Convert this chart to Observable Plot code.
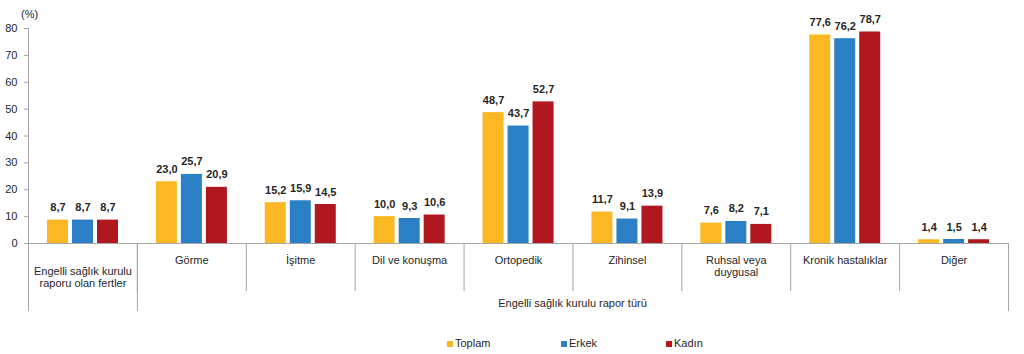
<!DOCTYPE html>
<html>
<head>
<meta charset="utf-8">
<script src="https://cdn.jsdelivr.net/npm/d3@7"></script>
<script src="https://cdn.jsdelivr.net/npm/@observablehq/plot@0.6"></script>
<style>
  html, body { margin: 0; padding: 0; background: #fff; }
  #wrap { position: relative; width: 1024px; height: 354px; font-family: "Liberation Sans", Arial, sans-serif; color: #262626; overflow: hidden; }
  #chart svg { display: block; }
  .abs { position: absolute; font-size: 11px; white-space: nowrap; }
  .sw { position: absolute; width: 6px; height: 6px; }
</style>
</head>
<body>
<div id="wrap">
  <div id="chart"></div>
  <div class="abs" style="left:21px; top:8px;">(%)</div>
  <div class="abs" style="left:137px; width:871px; top:297px; text-align:center;">Engelli sağlık kurulu rapor türü</div>
  <div id="legend"></div>
</div>
<script>
const categories = [
  "Engelli sağlık kurulu\nraporu olan fertler",
  "Görme",
  "İşitme",
  "Dil ve konuşma",
  "Ortopedik",
  "Zihinsel",
  "Ruhsal veya\nduygusal",
  "Kronik hastalıklar",
  "Diğer"
];
const seriesNames = ["Toplam", "Erkek", "Kadın"];
const toplam = [8.7, 23.0, 15.2, 10.0, 48.7, 11.7, 7.6, 77.6, 1.4];
const erkek  = [8.7, 25.7, 15.9, 9.3, 43.7, 9.1, 8.2, 76.2, 1.5];
const kadin  = [8.7, 20.9, 14.5, 10.6, 52.7, 13.9, 7.1, 78.7, 1.4];
const yTicks = [0, 10, 20, 30, 40, 50, 60, 70, 80];
const colors = ["#FBB823", "#2B80C5", "#B0171E"];

const seriesValues = [toplam, erkek, kadin];
const rows = [];
categories.forEach((c, i) => {
  seriesNames.forEach((s, j) => rows.push({cat: c, series: s, value: seriesValues[j][i]}));
});
const fmt = v => d3.format(".1f")(v).replace(".", ",");

const W = 1024, H = 330, mL = 28, mR = 16, mT = 28, mB = 87;
const innerH = H - mT - mB;
const half = (W - mL - mR) / categories.length / 2;
const gray = "#a6a6a6";

const plot = Plot.plot({
  width: W, height: H,
  marginLeft: mL, marginRight: mR, marginTop: mT, marginBottom: mB,
  style: {fontFamily: "'Liberation Sans', Arial, sans-serif", fontSize: "11px", color: "#262626", background: "#fff"},
  fx: {domain: categories, paddingInner: 0, paddingOuter: 0, axis: null, round: false},
  x: {domain: seriesNames, paddingInner: 0.154, paddingOuter: 0.672, axis: null},
  y: {domain: [0, 80], axis: null},
  color: {domain: seriesNames, range: colors},
  marks: [
    Plot.axisY({ticks: yTicks, tickSize: 4, tickPadding: 7, stroke: gray, label: null, fill: "#262626"}),
    Plot.barY(rows, {fx: "cat", x: "series", y: "value", fill: "series"}),
    Plot.text(rows, {fx: "cat", x: "series", y: "value", text: d => fmt(d.value), dy: -12.5, fontWeight: "bold", fontSize: 11, fill: "#262626"}),
    Plot.ruleY([0], {stroke: gray}),
    Plot.frame({anchor: "left", stroke: gray, insetTop: innerH, insetBottom: -47}),
    Plot.ruleX([categories[0]], {fx: d => d, x: null, dx: -half, stroke: gray, insetTop: 0, insetBottom: -68}),
    Plot.ruleX([categories[1]], {fx: d => d, x: null, dx: -half, stroke: gray, insetTop: innerH, insetBottom: -68}),
    Plot.ruleX([categories[categories.length - 1]], {fx: d => d, x: null, dx: half, stroke: gray, insetTop: innerH, insetBottom: -68}),
    Plot.text(categories.slice(1), {fx: d => d, text: d => d, frameAnchor: "bottom", lineAnchor: "top", dy: 12, lineHeight: 1.1, fontSize: 11, fill: "#262626"}),
    Plot.text(categories.slice(0, 1), {fx: d => d, text: d => d, frameAnchor: "bottom", lineAnchor: "top", dy: 23, lineHeight: 1.1, fontSize: 11, fill: "#262626"})
  ]
});
document.getElementById("chart").appendChild(plot);

const legend = document.getElementById("legend");
const legendX = [447, 561, 666];
seriesNames.forEach((s, i) => {
  const sw = document.createElement("div");
  sw.className = "sw";
  sw.style.left = legendX[i] + "px";
  sw.style.top = "341px";
  sw.style.background = colors[i];
  legend.appendChild(sw);
  const t = document.createElement("div");
  t.className = "abs";
  t.style.left = (legendX[i] + 8) + "px";
  t.style.top = "337px";
  t.textContent = s;
  legend.appendChild(t);
});
</script>
</body>
</html>
